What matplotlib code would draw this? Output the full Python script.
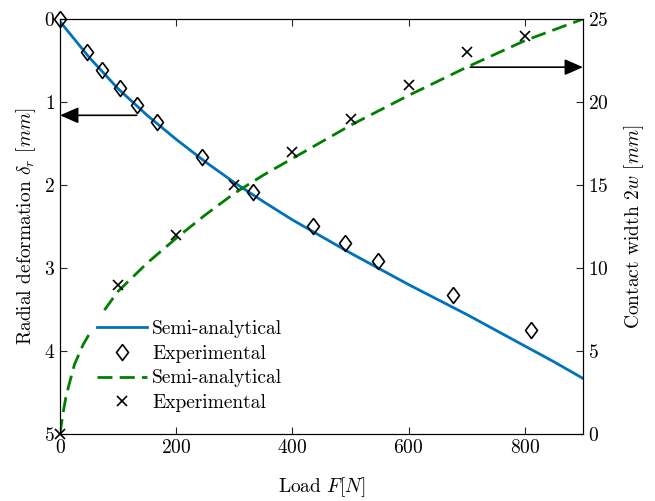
import numpy as np
import matplotlib
matplotlib.use('Agg')
from matplotlib import pyplot as plt
from matplotlib.lines import Line2D

# Semi-analytical radial deformation (left axis, inverted)
load_model = [0, 50, 100, 150, 200, 250, 300, 350, 400, 450, 500, 550, 600, 650, 700, 750, 800, 850, 900]
deform_model = [0.03, 0.46, 0.84, 1.16, 1.45, 1.72, 1.97, 2.20, 2.42, 2.62, 2.82, 3.01, 3.20, 3.38, 3.56, 3.75, 3.94, 4.13, 4.33]

# Experimental radial deformation
load_exp_d = [0, 46, 72, 103, 132, 167, 244, 332, 435, 490, 547, 676, 810]
deform_exp = [0.0, 0.40, 0.61, 0.83, 1.04, 1.24, 1.66, 2.08, 2.49, 2.70, 2.92, 3.33, 3.75]

# Semi-analytical contact width (right axis)
load_width = [0, 5, 10, 15, 25, 40, 60, 75, 100, 150, 200, 250, 300, 350, 400, 450, 500, 600, 700, 800, 900]
width_model = [0, 1.2, 2.2, 2.9, 4.2, 5.4, 6.6, 7.4, 8.6, 10.3, 11.8, 13.2, 14.5, 15.6, 16.6, 17.6, 18.6, 20.4, 22.1, 23.7, 25.0]

# Experimental contact width
load_exp_w = [0, 100, 200, 300, 400, 500, 600, 700, 800]
width_exp = [0, 9, 12, 15, 17, 19, 21, 23, 24]

blue = '#0072BD'
green = '#008000'

# MATLAB-like diamond (a bit wider than matplotlib's thin diamond)
diamond_path = [(0, 1), (0.75, 0), (0, -1), (-0.75, 0), (0, 1)]


def main():
    plt.rcParams['font.family'] = 'cmr10'
    plt.rcParams['mathtext.fontset'] = 'cm'
    plt.rcParams['axes.formatter.use_mathtext'] = True
    plt.rcParams['font.size'] = 14

    fig = plt.figure(figsize=(6.55, 5.01), dpi=100)
    ax1 = fig.add_axes([0.0916, 0.1337, 0.7985, 0.8283])
    ax2 = ax1.twinx()

    diamond = dict(ls='none', marker=diamond_path, ms=11.5, mfc='none', mec='k', mew=1.2)
    cross = dict(ls='none', marker='x', ms=7.5, mec='k', mew=1.2)

    ax1.plot(load_model, deform_model, color=blue, lw=2)
    ax1.plot(load_exp_d, deform_exp, clip_on=False, **diamond)
    ax1.set_xlim(0, 900)
    ax1.set_ylim(5, 0)
    ax1.set_xticks([0, 200, 400, 600, 800])
    ax1.set_yticks([0, 1, 2, 3, 4, 5])
    ax1.tick_params(direction='in', top=True, length=5, colors='#262626', labelcolor='k')
    ax1.set_xlabel('Load $F[N]$', labelpad=13)
    ax1.set_ylabel(r'Radial deformation $\delta_r$ $[mm]$')

    ax2.plot(load_width, width_model, color=green, lw=2, dashes=(5.4, 2.6))
    ax2.plot(load_exp_w, width_exp, clip_on=False, **cross)
    ax2.set_ylim(0, 25)
    ax2.set_yticks([0, 5, 10, 15, 20, 25])
    ax2.tick_params(direction='in', length=5, colors='#262626', labelcolor='k')
    ax2.set_ylabel('Contact width $2w$ $[mm]$', labelpad=10)

    # Arrows pointing at the matching axis
    arrow = dict(arrowstyle='-|>,head_length=0.8,head_width=0.35', color='k', lw=1.2, shrinkA=0, shrinkB=0)
    ax1.annotate('', xy=(0, 1.16), xytext=(132, 1.16), arrowprops=arrow)
    ax2.annotate('', xy=(900, 22.1), xytext=(706, 22.1), arrowprops=arrow)

    handles = [
        Line2D([], [], color=blue, lw=2),
        Line2D([], [], **diamond),
        Line2D([], [], color=green, lw=2, dashes=(5.4, 2.6)),
        Line2D([], [], **cross),
    ]
    labels = ['Semi-analytical', 'Experimental', 'Semi-analytical', 'Experimental']
    ax2.legend(handles, labels, loc='upper left', bbox_to_anchor=(90 / 655, 1 - 313 / 501),
               bbox_transform=fig.transFigure, frameon=True, fancybox=False, edgecolor='none',
               facecolor='white', framealpha=1, borderpad=0.35, borderaxespad=0,
               handlelength=2.6, handletextpad=0.25, labelspacing=0.35)

    plt.savefig('out.png', dpi=100)
    plt.close()


if __name__ == '__main__':
    main()
